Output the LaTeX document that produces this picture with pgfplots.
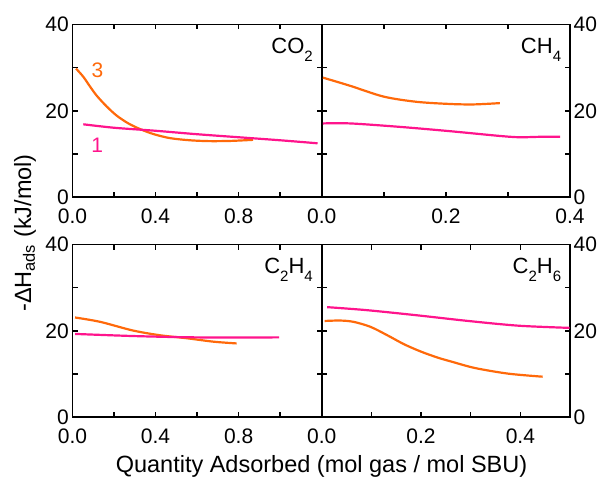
\documentclass[border=0pt]{standalone}
\usepackage{fontspec}
\setmainfont{Liberation Sans}
\usepackage{pgfplots}
\pgfplotsset{compat=1.18}
\definecolor{orng}{RGB}{255,105,10}
\definecolor{pnk}{RGB}{255,20,140}
\pgfplotsset{
  panel/.style={
    scale only axis, anchor=south west,
    height=172.8pt,
    ymin=0, ymax=40,
    ytick={0,10,20,30,40},
    yticklabels={0,,20,,40},
    tick align=inside,
    major tick length=5pt,
    axis line style={line width=1.8pt},
    every tick/.style={black, line width=1.5pt},
    tick label style={font=\fontsize{21}{21}\selectfont, inner xsep=3.5pt, inner ysep=0.5pt},
    xticklabel style={yshift=-11pt},
  },
  curve/.style={smooth, no marks, line width=2.2pt},
}
\tikzset{gas/.style={font=\fontsize{22}{22}\selectfont, anchor=north east, inner sep=0pt}}
\newcommand{\sub}[1]{\raisebox{-7.5pt}{\fontsize{15}{15}\selectfont #1}}
\begin{document}
\begin{tikzpicture}[x=1pt,y=1pt]
\useasboundingbox (0,0) rectangle (601,479);

% CO2
\begin{axis}[panel, at={(72.5pt,281.7pt)}, width=249.2pt,
  xmin=0, xmax=1.2, xtick={0,0.2,...,1.2}, xticklabels={0.0,,0.4,,0.8,,}]
\addplot[curve, orng] coordinates {(0.017,29.8) (0.052,27.9) (0.085,25.6) (0.117,23.5) (0.165,21.0) (0.213,18.9) (0.269,17.1) (0.325,15.8) (0.389,14.65) (0.469,13.7) (0.565,13.2) (0.66,13.0) (0.76,13.05) (0.87,13.3)};
\addplot[curve, pnk] coordinates {(0.052,16.9) (0.2,16.1) (0.4,15.4) (0.6,14.6) (0.8,13.9) (1.0,13.2) (1.18,12.5)};
\node[orng, font=\fontsize{21}{21}\selectfont] at (axis cs:0.12,29.4) {3};
\node[pnk, font=\fontsize{21}{21}\selectfont] at (axis cs:0.119,12.0) {1};
\node[gas] at (rel axis cs:0.965,0.922) {CO\sub{2}};
\end{axis}

% CH4
\begin{axis}[panel, at={(321.7pt,281.7pt)}, width=248.3pt,
  xmin=0, xmax=0.4, xtick={0,0.1,...,0.4}, xticklabels={0.0,,0.2,,0.4},
  yticklabel pos=right, ytick pos=both]
\addplot[curve, orng] coordinates {(0.002,27.7) (0.046,25.8) (0.1,23.3) (0.153,22.1) (0.207,21.6) (0.245,21.5) (0.287,21.8)};
\addplot[curve, pnk] coordinates {(0.002,17.1) (0.046,17.1) (0.126,16.3) (0.207,15.3) (0.287,14.2) (0.319,13.9) (0.351,14.0) (0.384,14.0)};
\node[gas] at (rel axis cs:0.965,0.922) {CH\sub{4}};
\end{axis}

% C2H4
\begin{axis}[panel, at={(72.5pt,61.7pt)}, width=249.2pt,
  xmin=0, xmax=1.2, xtick={0,0.2,...,1.2}, xticklabels={0.0,,0.4,,0.8,,}]
\addplot[curve, orng] coordinates {(0.0125,23.1) (0.133,22.1) (0.29,20.1) (0.42,19.0) (0.55,18.3) (0.68,17.5) (0.79,17.1)};
\addplot[curve, pnk] coordinates {(0.0125,19.3) (0.3,18.8) (0.6,18.5) (0.995,18.5)};
\node[gas] at (rel axis cs:0.965,0.922) {C\sub{2}H\sub{4}};
\end{axis}

% C2H6
\begin{axis}[panel, at={(321.7pt,61.7pt)}, width=248.3pt,
  xmin=0, xmax=0.5, xtick={0,0.1,...,0.5}, xticklabels={0.0,,0.2,,0.4,},
  yticklabel pos=right, ytick pos=both]
\addplot[curve, pnk] coordinates {(0.011,25.5) (0.091,24.8) (0.193,23.6) (0.295,22.3) (0.397,21.2) (0.499,20.7)};
\addplot[curve, orng] coordinates {(0.006,22.3) (0.037,22.4) (0.064,22.1) (0.098,20.95) (0.132,19.0) (0.166,16.9) (0.2,15.2) (0.234,13.8) (0.261,12.9) (0.309,11.4) (0.376,10.1) (0.445,9.4)};
\node[gas] at (rel axis cs:0.965,0.922) {C\sub{2}H\sub{6}};
\end{axis}

\node[font=\fontsize{23.5}{23.5}\selectfont] at (321.5,13) {Quantity Adsorbed (mol gas / mol SBU)};
\node[font=\fontsize{23.5}{23.5}\selectfont, rotate=90] at (25,246) {-ΔH\textsubscript{ads} (kJ/mol)};
\end{tikzpicture}
\end{document}
